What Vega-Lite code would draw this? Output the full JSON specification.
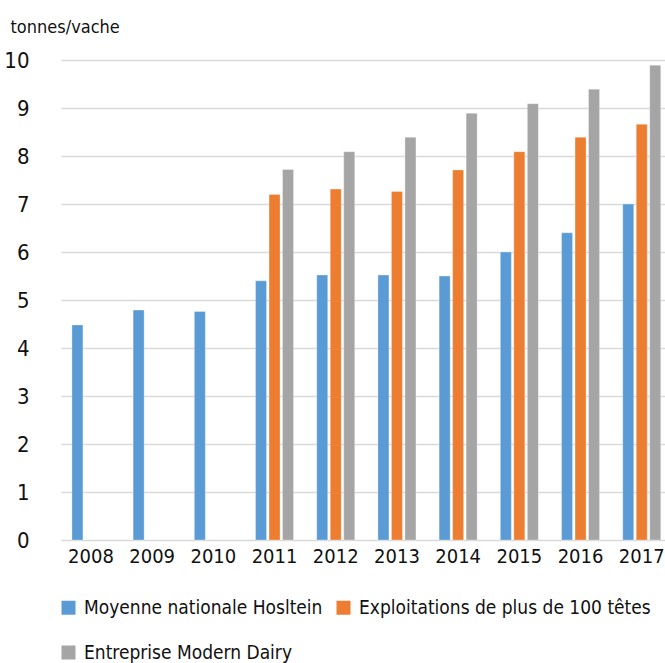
{
  "$schema": "https://vega.github.io/schema/vega-lite/v6.json",
  "autosize": {"type": "none"},
  "padding": {"left": 61, "top": 60, "right": 0, "bottom": 123},
  "width": 604,
  "height": 480,
  "background": "white",
  "config": {
    "font": "DejaVu Sans Condensed, sans-serif",
    "view": {"stroke": null}
  },
  "data": {
    "values": [
      {"annee": "2008", "serie": "Moyenne nationale Hosltein", "valeur": 4.48},
      {"annee": "2009", "serie": "Moyenne nationale Hosltein", "valeur": 4.79},
      {"annee": "2010", "serie": "Moyenne nationale Hosltein", "valeur": 4.76},
      {"annee": "2011", "serie": "Moyenne nationale Hosltein", "valeur": 5.40},
      {"annee": "2012", "serie": "Moyenne nationale Hosltein", "valeur": 5.52},
      {"annee": "2013", "serie": "Moyenne nationale Hosltein", "valeur": 5.52},
      {"annee": "2014", "serie": "Moyenne nationale Hosltein", "valeur": 5.50},
      {"annee": "2015", "serie": "Moyenne nationale Hosltein", "valeur": 6.00},
      {"annee": "2016", "serie": "Moyenne nationale Hosltein", "valeur": 6.40},
      {"annee": "2017", "serie": "Moyenne nationale Hosltein", "valeur": 7.00},
      {"annee": "2011", "serie": "Exploitations de plus de 100 têtes", "valeur": 7.20},
      {"annee": "2012", "serie": "Exploitations de plus de 100 têtes", "valeur": 7.31},
      {"annee": "2013", "serie": "Exploitations de plus de 100 têtes", "valeur": 7.26},
      {"annee": "2014", "serie": "Exploitations de plus de 100 têtes", "valeur": 7.71},
      {"annee": "2015", "serie": "Exploitations de plus de 100 têtes", "valeur": 8.09},
      {"annee": "2016", "serie": "Exploitations de plus de 100 têtes", "valeur": 8.39},
      {"annee": "2017", "serie": "Exploitations de plus de 100 têtes", "valeur": 8.66},
      {"annee": "2011", "serie": "Entreprise Modern Dairy", "valeur": 7.72},
      {"annee": "2012", "serie": "Entreprise Modern Dairy", "valeur": 8.09},
      {"annee": "2013", "serie": "Entreprise Modern Dairy", "valeur": 8.39},
      {"annee": "2014", "serie": "Entreprise Modern Dairy", "valeur": 8.89},
      {"annee": "2015", "serie": "Entreprise Modern Dairy", "valeur": 9.09},
      {"annee": "2016", "serie": "Entreprise Modern Dairy", "valeur": 9.39},
      {"annee": "2017", "serie": "Entreprise Modern Dairy", "valeur": 9.89}
    ]
  },
  "mark": {"type": "bar", "stroke": "white", "strokeWidth": 0.5, "strokeOpacity": 0.6},
  "encoding": {
    "x": {
      "field": "annee",
      "type": "nominal",
      "scale": {"paddingInner": 0.379, "paddingOuter": 0.124, "align": 0.72},
      "axis": {
        "title": null,
        "labelAngle": 0,
        "labelFontSize": 20,
        "labelColor": "#111111",
        "labelPadding": 6,
        "ticks": false,
        "domain": false,
        "grid": false
      }
    },
    "xOffset": {
      "field": "serie",
      "type": "nominal",
      "sort": ["Moyenne nationale Hosltein", "Exploitations de plus de 100 têtes", "Entreprise Modern Dairy"],
      "scale": {"paddingInner": 0.185, "paddingOuter": 0}
    },
    "y": {
      "field": "valeur",
      "type": "quantitative",
      "scale": {"domain": [0, 10]},
      "axis": {
        "title": "tonnes/vache",
        "titleAngle": 0,
        "titleAlign": "left",
        "titleBaseline": "alphabetic",
        "titleX": -51,
        "titleY": -28,
        "titleFontSize": 18,
        "titleFontWeight": "normal",
        "titleColor": "#111111",
        "values": [0, 1, 2, 3, 4, 5, 6, 7, 8, 9, 10],
        "labelFontSize": 22,
        "labelColor": "#111111",
        "labelPadding": 32,
        "ticks": false,
        "domain": false,
        "grid": true,
        "gridColor": "#D9D9D9",
        "gridWidth": 1.5
      }
    },
    "color": {
      "field": "serie",
      "type": "nominal",
      "sort": ["Moyenne nationale Hosltein", "Exploitations de plus de 100 têtes", "Entreprise Modern Dairy"],
      "scale": {
        "domain": ["Moyenne nationale Hosltein", "Exploitations de plus de 100 têtes", "Entreprise Modern Dairy"],
        "range": ["#5B9BD5", "#ED7D31", "#A5A5A5"]
      },
      "legend": {
        "title": null,
        "orient": "none",
        "legendX": -2,
        "legendY": 538,
        "direction": "horizontal",
        "columns": 2,
        "symbolType": "square",
        "symbolSize": 196,
        "symbolStrokeWidth": 0,
        "labelFontSize": 19,
        "labelColor": "#111111",
        "labelLimit": 400,
        "labelOffset": 6,
        "columnPadding": 11,
        "rowPadding": 25
      }
    }
  }
}
